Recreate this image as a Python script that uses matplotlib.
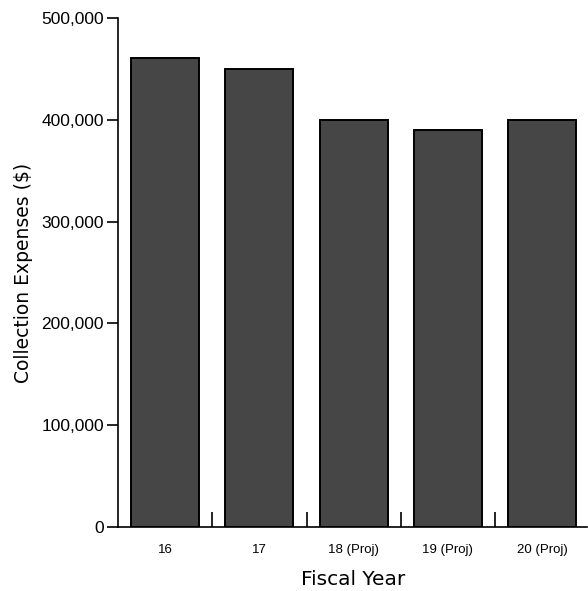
import matplotlib.pyplot as plt
from matplotlib.ticker import FuncFormatter, FixedLocator

years = ['16', '17', '18 (Proj)', '19 (Proj)', '20 (Proj)']
expenses = [461000, 450000, 400000, 390000, 400000]
y_ticks = [0, 100000, 200000, 300000, 400000, 500000]

fig = plt.figure(figsize=(5.88, 5.91), dpi=100)
ax = fig.add_axes([0.2007, 0.1083, 0.7983, 0.8612])

x = list(range(len(years)))
ax.bar(x, expenses, width=0.72, color='#464646', edgecolor='black', linewidth=1.4)

ax.set_xlim(-0.5, 4.48)
ax.set_ylim(0, 500000)
ax.set_yticks(y_ticks)
ax.yaxis.set_major_formatter(FuncFormatter(lambda v, p: f'{int(v):,}'))
ax.set_xticks(x)
ax.set_xticklabels(years, fontsize=9.5, family='Liberation Sans')
ax.xaxis.set_minor_locator(FixedLocator([i + 0.5 for i in range(len(years) - 1)]))

for lab in ax.get_yticklabels():
    lab.set_family('Liberation Sans')
    lab.set_fontsize(12.5)

ax.tick_params(axis='y', which='major', length=8, width=1.2, pad=2, direction='out')
ax.tick_params(axis='x', which='major', length=0, pad=12)
ax.tick_params(axis='x', which='minor', length=11, width=1.2, direction='in')

for s in ['top', 'right']:
    ax.spines[s].set_visible(False)
ax.spines['left'].set_linewidth(1.2)
ax.spines['bottom'].set_linewidth(1.2)

ax.set_ylabel('Collection Expenses ($)', fontsize=13.5, labelpad=6)
ax.set_xlabel('Fiscal Year', fontsize=14.5, labelpad=10)

fig.savefig('out.png', dpi=100)
